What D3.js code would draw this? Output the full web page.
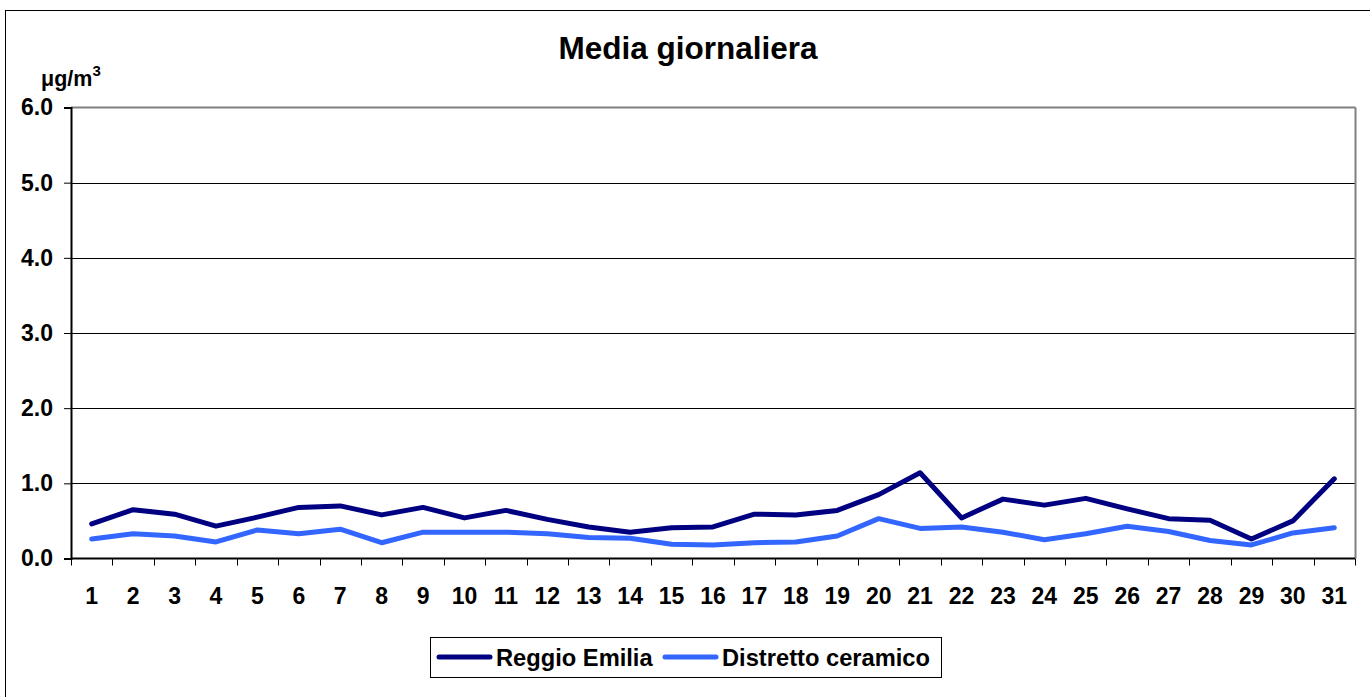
<!DOCTYPE html>
<html>
<head>
<meta charset="utf-8">
<script src="https://cdn.jsdelivr.net/npm/d3@7"></script>
<style>
  html, body { margin: 0; padding: 0; background: #fff; }
  svg { display: block; font-family: "Liberation Sans", Arial, sans-serif; }
</style>
</head>
<body>
<svg id="chart" width="1370" height="697"></svg>
<script>
const days = d3.range(1, 32).map(String);
const reggioEmilia = [0.46, 0.65, 0.59, 0.43, 0.55, 0.68, 0.70, 0.58, 0.68, 0.54,
  0.64, 0.52, 0.42, 0.35, 0.41, 0.42, 0.59, 0.58, 0.64, 0.85,
  1.14, 0.54, 0.79, 0.71, 0.80, 0.66, 0.53, 0.51, 0.26, 0.50, 1.06];
const distrettoCeramico = [0.26, 0.33, 0.30, 0.22, 0.38, 0.33, 0.39, 0.21, 0.35, 0.35,
  0.35, 0.33, 0.28, 0.27, 0.19, 0.18, 0.21, 0.22, 0.30, 0.53,
  0.40, 0.42, 0.35, 0.25, 0.33, 0.43, 0.36, 0.24, 0.18, 0.34, 0.41];
const yTicks = [0, 1, 2, 3, 4, 5, 6];
const seriesNames = ["Reggio Emilia", "Distretto ceramico"];
const seriesColors = ["#000080", "#3366FF"];
const titleText = "Media giornaliera";

(function () {
const svg = d3.select("#chart");
const pLeft = 71, pRight = 1355, pTop = 107.5, pBottom = 558.5;

// outer frame
svg.append("rect").attr("x", 5.5).attr("y", 10.5).attr("width", 1400).attr("height", 720)
  .attr("fill", "#fff").attr("stroke", "#000").attr("stroke-width", 1);

const x = d3.scaleBand().domain(days).range([pLeft, pRight]).padding(0);
const y = d3.scaleLinear().domain([0, 6]).range([pBottom, pTop]);

// gridlines
svg.append("g").selectAll("line").data(yTicks.filter(d => d > 0 && d < 6)).join("line")
  .attr("x1", pLeft).attr("x2", pRight)
  .attr("y1", d => Math.round(y(d)) + 0.5).attr("y2", d => Math.round(y(d)) + 0.5)
  .attr("stroke", "#000").attr("stroke-width", 1);

// plot area border (top & right gray)
svg.append("line").attr("x1", pLeft).attr("x2", pRight + 0.5).attr("y1", pTop).attr("y2", pTop)
  .attr("stroke", "#808080").attr("stroke-width", 2);
svg.append("line").attr("x1", pRight + 0.5).attr("x2", pRight + 0.5).attr("y1", pTop).attr("y2", pBottom)
  .attr("stroke", "#808080").attr("stroke-width", 2);

// y axis
const yAxis = d3.axisLeft(y).tickValues(yTicks).tickSize(7).tickPadding(11)
  .tickFormat(d3.format(".1f"));
const gy = svg.append("g").attr("transform", `translate(${pLeft},0)`).call(yAxis);
gy.select(".domain").attr("stroke", "#000").attr("stroke-width", 2);
gy.selectAll(".tick line").attr("stroke", "#000");
gy.selectAll("text").attr("font-size", 23).attr("font-weight", "bold").attr("fill", "#000")
  .attr("font-family", "Liberation Sans, Arial, sans-serif");

// x axis (ticks between categories)
const xAxis = d3.axisBottom(x).tickSize(0).tickPadding(29);
const gx = svg.append("g").attr("transform", `translate(0,${pBottom})`).call(xAxis);
gx.select(".domain").attr("stroke", "#000").attr("stroke-width", 2).attr("d", `M${pLeft},0H${pRight}`);
gx.selectAll("text").attr("font-size", 23).attr("font-weight", "bold").attr("fill", "#000")
  .attr("font-family", "Liberation Sans, Arial, sans-serif");
const boundaries = days.map(d => x(d)).concat([pRight]);
gx.append("g").selectAll("line").data(boundaries).join("line")
  .attr("x1", d => Math.round(d) + 0.5).attr("x2", d => Math.round(d) + 0.5)
  .attr("y1", 0).attr("y2", 7).attr("stroke", "#000").attr("stroke-width", 1);

// lines
const line = d3.line().x((d, i) => x(days[i]) + x.bandwidth() / 2).y(d => y(d));
[reggioEmilia, distrettoCeramico].forEach((s, k) => {
  svg.append("path").datum(s).attr("d", line)
    .attr("fill", "none").attr("stroke", seriesColors[k]).attr("stroke-width", 5)
    .attr("stroke-linejoin", "round").attr("stroke-linecap", "round");
});

// title
svg.append("text").attr("x", 688).attr("y", 59).attr("text-anchor", "middle")
  .attr("font-size", 31.5).attr("font-weight", "bold").text(titleText);

// unit label
const unit = svg.append("text").attr("x", 41).attr("y", 86)
  .attr("font-size", 21.5).attr("font-weight", "bold");
unit.append("tspan").text("μg/m");
unit.append("tspan").attr("dy", -10).attr("font-size", 15).text("3");

// legend
const lg = svg.append("g");
lg.append("rect").attr("x", 430.5).attr("y", 637.5).attr("width", 511).attr("height", 40)
  .attr("fill", "#fff").attr("stroke", "#000").attr("stroke-width", 1);
const legendItems = [{x: 439, tx: 496}, {x: 665, tx: 722}];
legendItems.forEach((it, k) => {
  lg.append("line").attr("x1", it.x).attr("x2", it.x + 51).attr("y1", 657).attr("y2", 657)
    .attr("stroke", seriesColors[k]).attr("stroke-width", 5).attr("stroke-linecap", "round");
  lg.append("text").attr("x", it.tx).attr("y", 666).attr("font-size", 23.7)
    .attr("font-weight", "bold").text(seriesNames[k]);
});
})();
</script>
</body>
</html>
